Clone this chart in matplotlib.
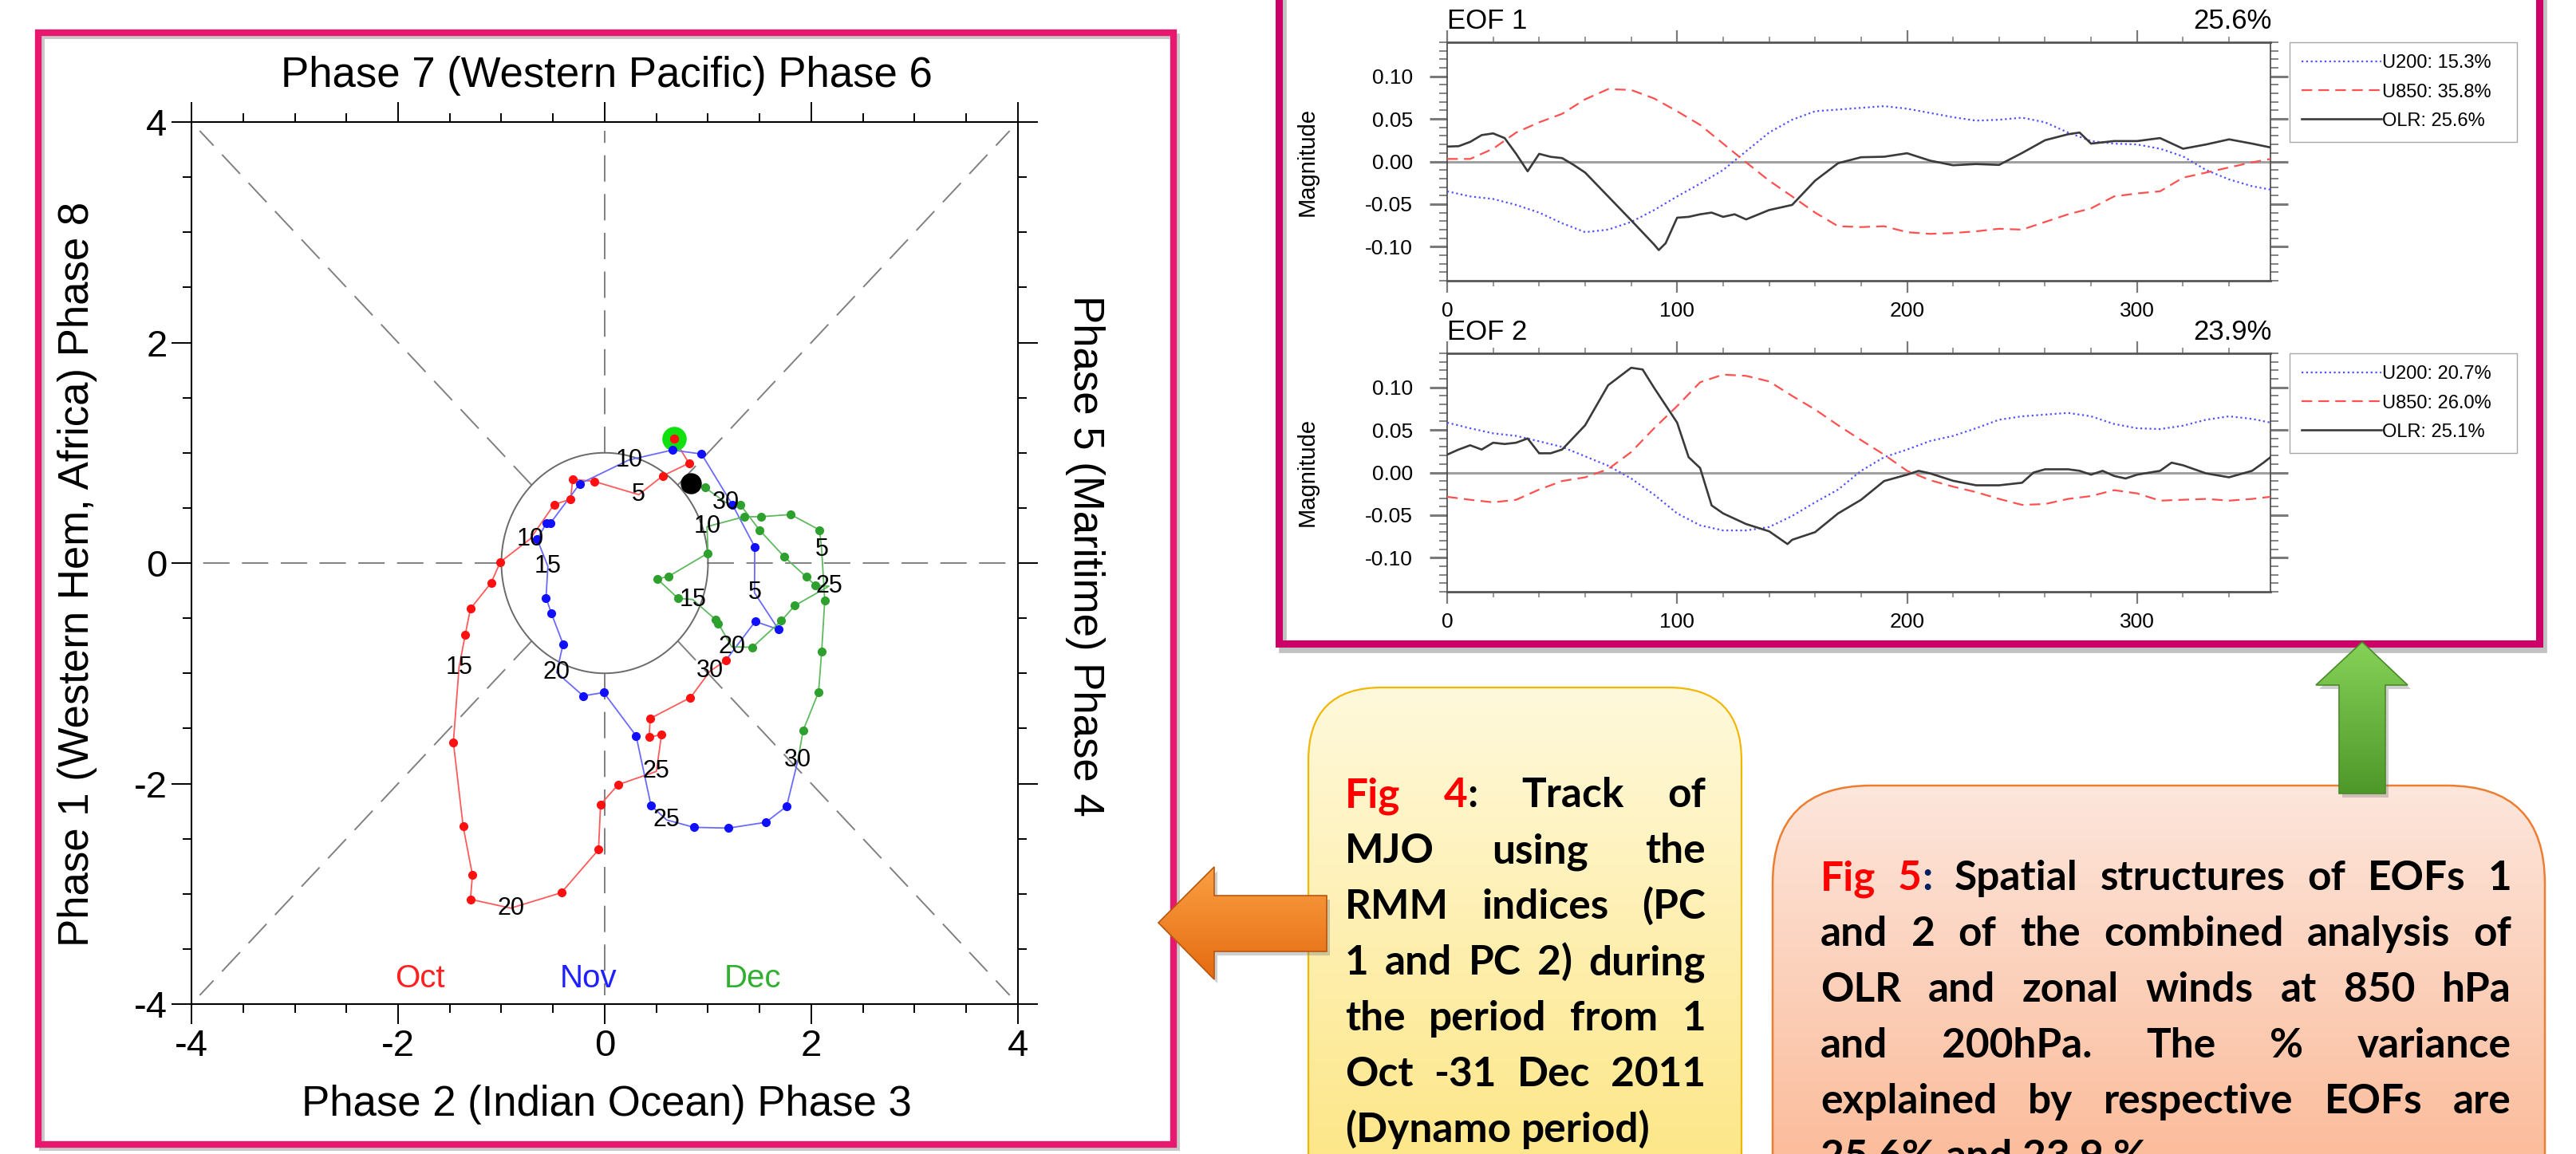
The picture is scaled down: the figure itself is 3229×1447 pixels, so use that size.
import numpy as np
import matplotlib
matplotlib.use("Agg")
import matplotlib.pyplot as plt
import matplotlib.colors as mcolors
from matplotlib.patches import FancyBboxPatch, Polygon, Rectangle
from matplotlib.ticker import MultipleLocator, FormatStrFormatter

W, H = 3230, 1447
plt.rcParams["font.family"] = ["Liberation Sans", "DejaVu Sans"]
plt.rcParams["axes.unicode_minus"] = False

# ---- MJO track (RMM1, RMM2), Oct - Dec 2011 ----
oct_rmm1 = [0.67, 0.815, 0.56, 0.33, -0.10, -0.31, -0.33, -0.49, -0.72, -1.01,
            -1.10, -1.30, -1.35, -1.41, -1.465, -1.37, -1.28, -1.30, -0.91, -0.42,
            -0.06, -0.04, 0.13, 0.50, 0.55, 0.43, 0.44, 0.83, 1.02, 1.17]
oct_rmm2 = [1.13, 0.905, 0.79, 0.62, 0.74, 0.76, 0.58, 0.53, 0.22, 0.01,
            -0.18, -0.415, -0.65, -0.945, -1.625, -2.39, -2.83, -3.05, -3.13, -2.99,
            -2.60, -2.19, -2.01, -1.89, -1.555, -1.58, -1.41, -1.22, -0.98, -0.885]
oct_lab_at = [3, 8, 13, 18, 23, 28]

nov_rmm1 = [1.457, 1.683, 1.45, 1.452, 1.238, 0.937, 0.654, 0.234, -0.242, -0.525,
            -0.564, -0.654, -0.55, -0.568, -0.517, -0.403, -0.465, -0.208, -0.01, 0.304,
            0.448, 0.60, 0.865, 1.199, 1.56, 1.761, 1.87]
nov_rmm2 = [-0.53, -0.603, -0.27, 0.147, 0.526, 0.989, 1.025, 0.935, 0.718, 0.362,
            0.362, 0.217, -0.03, -0.315, -0.454, -0.735, -0.993, -1.205, -1.174, -1.567,
            -2.199, -2.33, -2.397, -2.404, -2.351, -2.206, -1.79]
nov_lab_at = [2, 7, 12, 16, 21, 26]

dec_rmm1 = [1.92, 2.07, 2.10, 2.13, 2.10, 2.08, 1.80, 1.51, 1.35, 0.99,
            1.00, 0.62, 0.51, 0.71, 0.85, 1.07, 1.10, 1.23, 1.43, 1.71,
            1.84, 2.17, 2.04, 1.95, 1.74, 1.50, 1.315, 1.17, 0.97, 0.834]
dec_rmm2 = [-1.52, -1.17, -0.80, -0.34, 0.12, 0.30, 0.44, 0.42, 0.42, 0.33,
            0.09, -0.12, -0.145, -0.32, -0.33, -0.51, -0.55, -0.76, -0.764, -0.523,
            -0.386, -0.21, -0.203, -0.125, 0.055, 0.297, 0.526, 0.55, 0.685, 0.723]
dec_lab_at = [4, 9, 14, 17, 21, 27]

day_text = ["5", "10", "15", "20", "25", "30"]
month_names = ["Oct", "Nov", "Dec"]

# ---- EOF structures (longitude, magnitude) ----
lon_w = [0, 10, 20, 30, 40, 50, 60, 70, 80, 90, 100, 110, 120, 130, 140, 150, 160, 170, 180,
         190, 200, 210, 220, 230, 240, 250, 260, 270, 280, 290, 300, 310, 320, 330, 340, 350, 358]

eof1_u200 = [-0.035, -0.041, -0.044, -0.051, -0.060, -0.0725, -0.083, -0.080, -0.071, -0.057,
             -0.041, -0.026, -0.010, 0.012, 0.034, 0.049, 0.059, 0.061, 0.063, 0.065,
             0.062, 0.057, 0.052, 0.048, 0.049, 0.0515, 0.046, 0.034, 0.024, 0.021,
             0.020, 0.015, 0.006, -0.010, -0.021, -0.029, -0.033]
eof1_u850 = [0.003, 0.003, 0.015, 0.034, 0.046, 0.056, 0.073, 0.085, 0.084, 0.074,
             0.059, 0.043, 0.021, -0.001, -0.0225, -0.041, -0.060, -0.076, -0.077, -0.076,
             -0.083, -0.085, -0.084, -0.082, -0.079, -0.080, -0.071, -0.062, -0.055, -0.041,
             -0.0375, -0.035, -0.019, -0.013, -0.007, -0.001, 0.003]
eof1_olr_lon = [0, 5, 10, 15, 20, 25, 30, 35, 40, 45, 50, 55, 60, 70, 80, 90, 92, 95, 100,
                105, 110, 115, 120, 125, 130, 140, 150, 160, 170, 180, 190, 200, 210, 220,
                230, 240, 250, 260, 270, 275, 280, 290, 300, 310, 320, 330, 340, 350, 358]
eof1_olr = [0.0175, 0.018, 0.023, 0.031, 0.033, 0.0275, 0.009, -0.0115, 0.009, 0.0055,
            0.004, -0.004, -0.013, -0.041, -0.069, -0.0975, -0.104, -0.096, -0.066, -0.065,
            -0.062, -0.060, -0.065, -0.062, -0.068, -0.057, -0.051, -0.0225, -0.002, 0.005,
            0.0056, 0.0097, 0.001, -0.0044, -0.003, -0.004, 0.010, 0.025, 0.032, 0.034,
            0.021, 0.024, 0.024, 0.0275, 0.015, 0.020, 0.026, 0.021, 0.0165]

eof2_u200 = [0.0586, 0.052, 0.046, 0.043, 0.0367, 0.030, 0.019, 0.008, -0.007, -0.026,
             -0.048, -0.062, -0.068, -0.068, -0.064, -0.051, -0.035, -0.020, 0.002, 0.018,
             0.027, 0.037, 0.043, 0.052, 0.062, 0.066, 0.068, 0.070, 0.066, 0.057,
             0.052, 0.051, 0.055, 0.062, 0.066, 0.063, 0.0586]
eof2_u850 = [-0.0285, -0.032, -0.035, -0.032, -0.020, -0.010, -0.0056, 0.004, 0.024, 0.052,
             0.078, 0.106, 0.115, 0.1135, 0.107, 0.090, 0.074, 0.0555, 0.038, 0.021,
             0.002, -0.009, -0.0166, -0.023, -0.031, -0.038, -0.037, -0.031, -0.0276, -0.0207,
             -0.0245, -0.033, -0.032, -0.031, -0.033, -0.031, -0.0285]
eof2_olr_lon = [0, 5, 10, 15, 20, 25, 30, 35, 40, 45, 50, 60, 70, 80, 85, 90, 100, 105, 110,
                115, 120, 130, 140, 148, 150, 160, 170, 180, 190, 200, 205, 210, 220, 230,
                240, 250, 255, 260, 270, 275, 280, 285, 290, 295, 300, 310, 315, 320, 330,
                340, 350, 355, 358]
eof2_olr = [0.021, 0.027, 0.032, 0.027, 0.035, 0.0335, 0.035, 0.040, 0.0226, 0.0226,
            0.027, 0.0555, 0.1025, 0.123, 0.121, 0.0994, 0.0586, 0.018, 0.0053, -0.0386,
            -0.048, -0.0605, -0.069, -0.084, -0.079, -0.070, -0.048, -0.032, -0.010, -0.0025,
            0.002, -0.001, -0.0097, -0.015, -0.015, -0.012, 0.0, 0.0038, 0.0038, 0.002,
            -0.0025, 0.002, -0.004, -0.007, -0.0025, 0.002, 0.0116, 0.0085, -0.001, -0.0056,
            0.002, 0.0116, 0.018]

eof_names = ["EOF 1", "EOF 2"]
eof_pct = ["25.6%", "23.9%"]
eof1_legend = ["U200: 15.3%", "U850: 35.8%", "OLR: 25.6%"]
eof2_legend = ["U200: 20.7%", "U850: 26.0%", "OLR: 25.1%"]

fig4_lines = ["Fig 4: Track of", "MJO using the", "RMM indices (PC", "1 and PC 2) during",
              "the period from 1", "Oct -31 Dec 2011", "(Dynamo period)"]
fig5_lines = ["Fig 5: Spatial structures of EOFs 1", "and 2 of the combined analysis of",
              "OLR and zonal winds at 850 hPa", "and 200hPa. The % variance",
              "explained by respective EOFs are", "25.6% and 23.9 %"]

fig = plt.figure(figsize=(W / 100, H / 100), dpi=100, facecolor="white")


def px_axes(x0, y0, x1, y1, **kw):
    return fig.add_axes([x0 / W, 1 - y1 / H, (x1 - x0) / W, (y1 - y0) / H], **kw)


# ================= MJO phase diagram =================
ax = px_axes(240, 153, 1276, 1259)
ax.set_xlim(-4, 4)
ax.set_ylim(-4, 4)
for a in (ax.xaxis, ax.yaxis):
    a.set_major_locator(MultipleLocator(2))
    a.set_minor_locator(MultipleLocator(0.5))
ax.tick_params(which="both", direction="out", top=True, right=True, labelsize=34, width=1.4)
ax.tick_params(which="major", length=18, pad=4)
ax.tick_params(which="minor", length=8)
for s in ax.spines.values():
    s.set_linewidth(1.5)

gc = "#808080"
dash = (0, (17, 8))
ax.plot([0, 0], [1, 3.92], color=gc, lw=1.4, ls=dash)
ax.plot([0, 0], [-1, -3.92], color=gc, lw=1.4, ls=dash)
ax.plot([1, 3.92], [0, 0], color=gc, lw=1.4, ls=dash)
ax.plot([-1, -3.92], [0, 0], color=gc, lw=1.4, ls=dash)
for sx in (1, -1):
    for sy in (1, -1):
        ax.plot([0.707 * sx, 3.92 * sx], [0.707 * sy, 3.92 * sy], color=gc, lw=1.4, ls=dash)
th = np.linspace(0, 2 * np.pi, 300)
ax.plot(np.cos(th), np.sin(th), color="#6a6a6a", lw=1.4)

months = [(oct_rmm1, oct_rmm2, oct_lab_at, "#ff5a5a", "#ff1010"),
          (nov_rmm1, nov_rmm2, nov_lab_at, "#6a6aff", "#1010ff"),
          (dec_rmm1, dec_rmm2, dec_lab_at, "#5fb95f", "#2ea02e")]
prev = None
for xs, ys, lab_at, lc, mc in months:
    lx = ([prev[0]] if prev else []) + xs
    ly = ([prev[1]] if prev else []) + ys
    ax.plot(lx, ly, color=lc, lw=1.3, zorder=3)
    keep = [i for i in range(len(xs)) if i not in lab_at]
    ax.plot([xs[i] for i in keep], [ys[i] for i in keep], "o", color=mc, ms=7,
            ls="none", zorder=4)
    for i, t in zip(lab_at, day_text):
        ax.text(xs[i], ys[i], t, ha="center", va="center", fontsize=22, zorder=6)
    prev = (xs[-1], ys[-1])

ax.plot(oct_rmm1[0], oct_rmm2[0], "o", color="#10e010", ms=21, zorder=3.5)
ax.plot(oct_rmm1[0], oct_rmm2[0], "o", color="#ff1010", ms=7, zorder=4.5)
ax.plot(dec_rmm1[-1], dec_rmm2[-1], "o", color="black", ms=18, zorder=7)

for name, xm, col in zip(month_names, [-1.79, -0.16, 1.43], ["#ff2020", "#2020ff", "#30b030"]):
    ax.text(xm, -3.77, name, color=col, fontsize=29, ha="center", va="center")


# ================= EOF panels =================
def eof_panel(y0, y1, u200, u850, olr_lon, olr, legend_txt):
    a = px_axes(1814, y0, 2846, y1)
    a.axhline(0, color="#a0a0a0", lw=2.2, zorder=1)
    l1, = a.plot(lon_w, u200, color="#5050ff", lw=1.6, ls=(0, (1, 1.6)), zorder=3)
    l2, = a.plot(lon_w, u850, color="#ff5050", lw=1.6, ls=(0, (6, 3.5)), zorder=3)
    l3, = a.plot(olr_lon, olr, color="#3a3a3a", lw=1.9, zorder=3)
    a.set_xlim(0, 358)
    a.set_ylim(-0.14, 0.14)
    a.xaxis.set_major_locator(MultipleLocator(100))
    a.xaxis.set_minor_locator(MultipleLocator(20))
    a.yaxis.set_major_locator(MultipleLocator(0.05))
    a.yaxis.set_minor_locator(MultipleLocator(0.01))
    a.yaxis.set_major_formatter(FormatStrFormatter("%.2f"))
    a.tick_params(which="both", direction="out", top=True, right=True, color="#7a7a7a",
                  labelsize=19)
    a.tick_params(axis="x", which="major", length=11, width=1.6, pad=8)
    a.tick_params(axis="x", which="minor", length=5, width=1.1)
    a.tick_params(axis="y", which="major", length=16, width=2.2, pad=15)
    a.tick_params(axis="y", which="minor", length=7, width=1.3)
    for k in ("top", "bottom"):
        a.spines[k].set_color("#555555")
        a.spines[k].set_linewidth(2)
    for k in ("left", "right"):
        a.spines[k].set_color("#444444")
        a.spines[k].set_linewidth(1.2)
    a.legend([l1, l2, l3], legend_txt, loc="upper left",
             bbox_to_anchor=(2870 / W, 1 - (y0 + 112) / H, 285 / W, 112 / H),
             bbox_transform=fig.transFigure, mode="expand", fancybox=False,
             edgecolor="#a8a8a8", framealpha=1, fontsize=17, handlelength=4.2,
             handletextpad=0.05, labelspacing=0.6, borderpad=0.65, borderaxespad=0)
    return a


eof_panel(53, 352, eof1_u200, eof1_u850, eof1_olr_lon, eof1_olr, eof1_legend)
eof_panel(443, 742, eof2_u200, eof2_u850, eof2_olr_lon, eof2_olr, eof2_legend)

# ================= overlay: frames, labels, boxes, arrows =================
ov = fig.add_axes([0, 0, 1, 1], zorder=10)
ov.patch.set_alpha(0)
ov.axis("off")


def grad_fill(patch, top, bot, x0, x1, y_top, y_bot, z):
    ov.add_patch(patch)
    t = np.linspace(0, 1, 256)[:, None, None]
    img = (1 - t) * np.array(mcolors.to_rgb(top))[None, None, :] + \
        t * np.array(mcolors.to_rgb(bot))[None, None, :]
    im = ov.imshow(img, extent=(x0, x1, y_bot, y_top), aspect="auto", zorder=z,
                   interpolation="bilinear")
    im.set_clip_path(patch)


# pink frames with shadow
ov.add_patch(Rectangle((52, 45), 1423, 1394, fill=False, ec="#c8c8c8", lw=5, zorder=1))
ov.add_patch(Rectangle((48, 41), 1423, 1394, fill=False, ec="#e8186e", lw=6, zorder=2))
ov.add_patch(Rectangle((1608, -40), 1580, 854, fill=False, ec="#9a9a9a", lw=7, alpha=0.6, zorder=1))
ov.add_patch(Rectangle((1603, -40), 1580, 847, fill=False, ec="#cc0066", lw=6.5, zorder=2))

# MJO axis titles
ov.text(760, 95, "Phase 7 (Western Pacific) Phase 6", ha="center", va="center", fontsize=38)
ov.text(760, 1385, "Phase 2 (Indian Ocean) Phase 3", ha="center", va="center", fontsize=38)
ov.text(97, 720, "Phase 1 (Western Hem, Africa) Phase 8", rotation=90, ha="center",
        va="center", fontsize=38)
ov.text(1360, 697, "Phase 5 (Maritime) Phase 4", rotation=-90, ha="center", va="center",
        fontsize=38)

# EOF titles
for yb, yc, nm, pc in [(36, 203, eof_names[0], eof_pct[0]), (426, 592, eof_names[1], eof_pct[1])]:
    ov.text(1814, yb, nm, ha="left", va="baseline", fontsize=25)
    ov.text(2848, yb, pc, ha="right", va="baseline", fontsize=25)
    ov.text(1639, yc, "Magnitude", rotation=90, ha="center", va="center", fontsize=21)

# caption boxes
ybox = FancyBboxPatch((1640, 862), 543, 700, boxstyle="round,pad=0,rounding_size=92",
                      fc="none", ec="#f2b705", lw=1.6, zorder=3.1)
grad_fill(ybox, "#fff9dc", "#fde78a", 1640, 2183, 862, 1447, 3)
sbox = FancyBboxPatch((2222, 985), 968, 700, boxstyle="round,pad=0,rounding_size=123",
                      fc="none", ec="#ed7d31", lw=1.8, zorder=3.1)
grad_fill(sbox, "#fde6dc", "#fbbd9c", 2222, 3190, 985, 1447, 3)

# arrows
garrow = [(2961, 805), (3018, 859), (2990, 859), (2990, 995), (2932, 995), (2932, 859), (2903, 859)]
ov.add_patch(Polygon([(x + 4, y + 5) for x, y in garrow], closed=True, fc="#777777",
                     ec="none", alpha=0.35, zorder=4))
gp = Polygon(garrow, closed=True, fc="none", ec="#4b8a2b", lw=1.2, zorder=5.1)
grad_fill(gp, "#86d258", "#4e982a", 2903, 3018, 805, 995, 5)
oarrow = [(1452, 1157), (1522, 1087), (1522, 1123), (1663, 1123), (1663, 1193), (1522, 1193), (1522, 1228)]
ov.add_patch(Polygon([(x + 4, y + 5) for x, y in oarrow], closed=True, fc="#777777",
                     ec="none", alpha=0.35, zorder=4))
op = Polygon(oarrow, closed=True, fc="none", ec="#b8570f", lw=1.2, zorder=5.1)
grad_fill(op, "#fba043", "#e56a10", 1452, 1663, 1087, 1228, 5)

ov.set_xlim(0, W)
ov.set_ylim(H, 0)

renderer = fig.canvas.get_renderer()


def justified(lines, x0, x1, y0, dy, size, colon):
    kw = dict(fontweight="bold", family=["Lato", "DejaVu Sans"], va="baseline", zorder=6)

    def width(s, fs):
        t = ov.text(0, 0, s, fontsize=fs, **kw)
        w = t.get_window_extent(renderer).width
        t.remove()
        return w

    while True:
        sp = width("a a", size) - width("aa", size)
        widest = max(sum(width(w, size) for w in ln.split()) + sp * (len(ln.split()) - 1)
                     for ln in lines[:-1])
        if widest <= x1 - x0 or size < 10:
            break
        size -= 1
    for i, ln in enumerate(lines):
        words = ln.split()
        segs = []
        for j, wd in enumerate(words):
            if i == 0 and j == 0:
                segs.append([(wd, "#ff0000")])
            elif i == 0 and j == 1:
                segs.append([(wd[:-1], "#ff0000"), (":", colon)])
            else:
                segs.append([(wd, "black")])
        ww = [sum(width(s, size) for s, c in sg) for sg in segs]
        if i == len(lines) - 1 or len(words) == 1:
            gap = sp
        else:
            gap = (x1 - x0 - sum(ww)) / (len(words) - 1)
        x = x0
        for sg, w in zip(segs, ww):
            xx = x
            for s, c in sg:
                ov.text(xx, y0 + i * dy, s, color=c, ha="left", fontsize=size, **kw)
                xx += width(s, size)
            x += w + gap


justified(fig4_lines, 1686, 2138, 1012, 70, 37, "black")
justified(fig5_lines, 2282, 3148, 1116, 70, 37, "#002060")

fig.savefig("out.png", dpi=100, facecolor="white")
